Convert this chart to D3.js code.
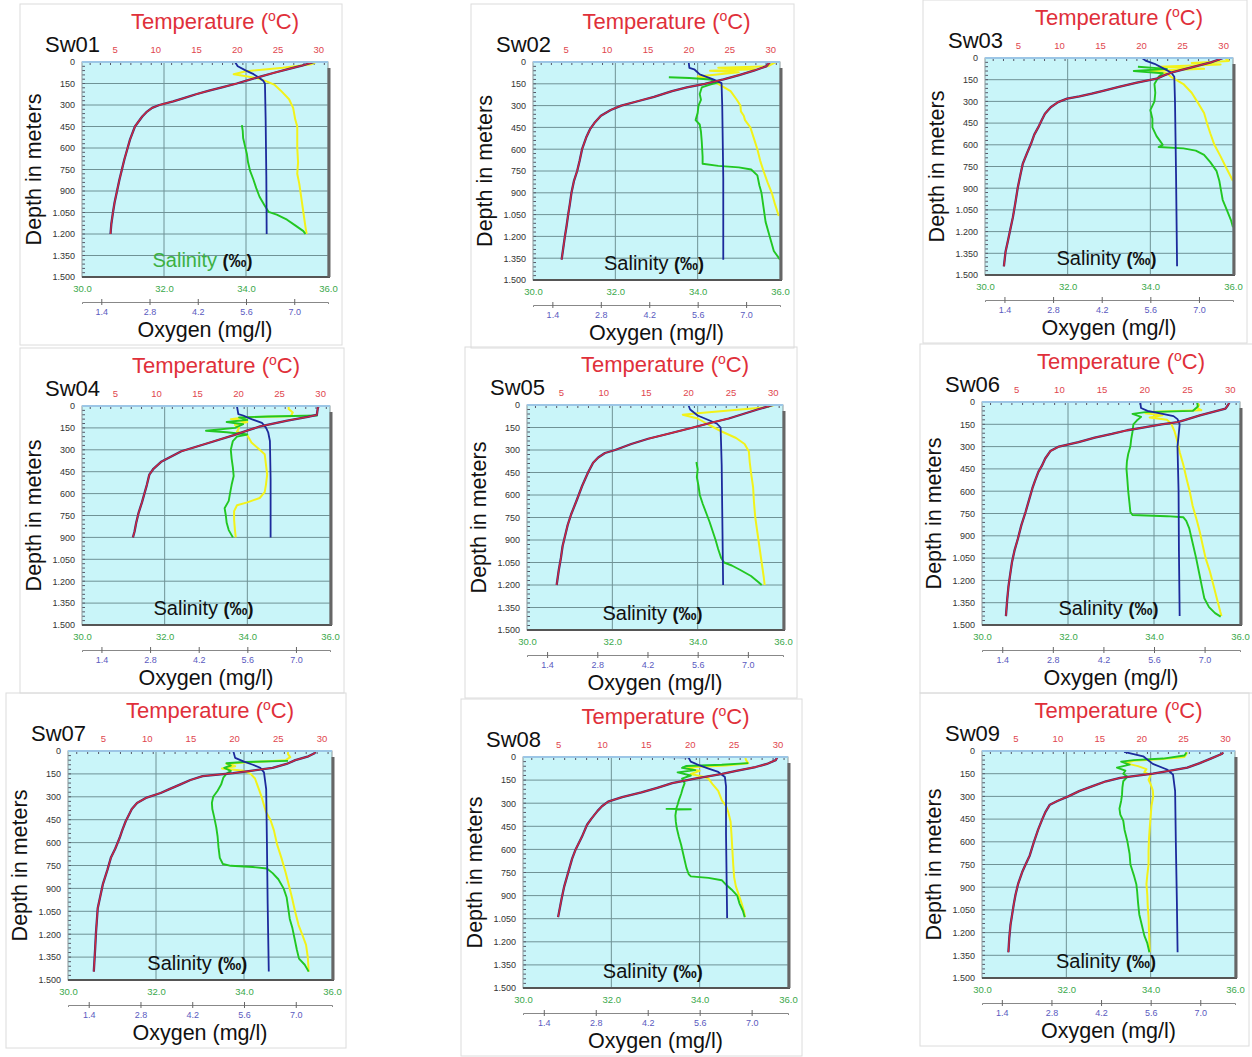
<!DOCTYPE html>
<meta charset="utf-8">
<style>

body {
  margin: 0;
  background: #fff;
}

svg {
  font-family: "Liberation Sans", Arial, sans-serif;
}

.frame {
  fill: none;
  stroke: #dcdcdc;
}

.plot-bg {
  fill: #c9f5f9;
}

.grid line {
  stroke: #6f9296;
  stroke-width: 1;
}

.minor line {
  stroke: #556;
  stroke-width: 1;
}

.line {
  fill: none;
  stroke-linejoin: round;
}

.axis text {
  font-family: "Liberation Sans", Arial, sans-serif;
}

</style>
<svg width="1252" height="1057"></svg>
<script src="https://d3js.org/d3.v7.min.js"></script>
<script>

var stations = ["Sw01", "Sw02", "Sw03", "Sw04", "Sw05", "Sw06", "Sw07", "Sw08", "Sw09"];

var depthTicks = [0, 150, 300, 450, 600, 750, 900, 1050, 1200, 1350, 1500];
var depthLabels = ["0", "150", "300", "450", "600", "750", "900", "1.050", "1.200", "1.350", "1.500"];
var tempTicks = [5, 10, 15, 20, 25, 30];
var salTicks = [30, 32, 34, 36];
var oxyTicks = [1.4, 2.8, 4.2, 5.6, 7.0];

// [depth m, temperature degC]
var temperature = [
  [[0,29.5],[25,28.0],[50,26.3],[75,24.6],[100,23.0],[125,21.5],[150,20.0],[175,18.3],[200,16.6],[225,15.0],[250,13.6],[275,12.2],[300,10.5],[320,9.6],[350,8.9],[380,8.4],[450,7.5],[540,6.9],[600,6.6],[680,6.2],[750,5.9],[820,5.6],[900,5.3],[980,5.0],[1050,4.8],[1130,4.6],[1200,4.5]],
  [[0,30.0],[30,29.5],[60,28.0],[90,26.2],[120,24.3],[150,22.0],[175,19.8],[200,18.0],[240,15.8],[270,13.8],[300,11.8],[330,10.5],[370,9.3],[420,8.5],[460,8.0],[520,7.5],[600,7.0],[680,6.7],[750,6.4],[820,6.0],[900,5.7],[980,5.5],[1050,5.3],[1130,5.1],[1200,4.9],[1280,4.7],[1360,4.5]],
  [[0,30.0],[30,28.5],[60,26.5],[97,23.9],[120,22.8],[143,21.9],[170,19.5],[200,17.3],[225,15.5],[247,14.0],[265,12.5],[281,11.0],[305,9.9],[340,9.0],[385,8.3],[430,7.9],[478,7.5],[530,7.0],[593,6.6],[660,6.1],[731,5.6],[810,5.3],[893,5.0],[1000,4.7],[1100,4.4],[1180,4.1],[1262,3.8],[1340,3.5],[1440,3.3]],
  [[0,29.8],[20,29.7],[60,29.6],[75,28.5],[100,26.0],[140,22.7],[170,21.0],[200,19.5],[255,16.3],[310,13.1],[380,10.7],[430,9.7],[470,9.2],[540,8.9],[600,8.6],[660,8.3],[730,7.9],[800,7.6],[860,7.4],[900,7.2]],
  [[0,30.0],[30,28.2],[60,26.5],[90,24.8],[120,22.6],[150,20.6],[190,17.8],[225,15.3],[260,13.3],[300,11.4],[320,10.2],[350,9.4],[385,8.8],[450,8.2],[540,7.5],[630,6.9],[730,6.2],[800,5.8],[870,5.5],[940,5.2],[1020,5.0],[1100,4.75],[1200,4.5]],
  [[0,30.0],[20,29.8],[45,29.5],[60,28.5],[90,26.5],[120,24.8],[135,23.9],[150,22.0],[170,20.0],[190,18.0],[215,16.2],[240,14.2],[270,12.3],[300,10.0],[330,9.0],[380,8.4],[430,8.0],[470,7.6],[530,7.2],[580,6.9],[660,6.5],[740,6.1],[830,5.6],[920,5.2],[1000,4.8],[1080,4.5],[1160,4.3],[1240,4.1],[1330,3.95],[1440,3.8]],
  [[0,29.3],[15,29.2],[35,28.5],[60,27.0],[85,26.0],[110,24.4],[130,21.9],[145,19.9],[165,16.4],[190,15.0],[220,13.8],[250,12.6],[275,11.6],[305,10.0],[340,8.9],[380,8.3],[460,7.6],[520,7.2],[570,6.9],[640,6.4],[700,5.9],[780,5.5],[870,5.0],[950,4.7],[1030,4.4],[1110,4.3],[1190,4.2],[1300,4.1],[1445,3.95]],
  [[0,30.0],[20,29.8],[45,28.8],[65,27.5],[90,25.3],[110,23.7],[140,20.6],[170,18.0],[200,16.3],[230,14.5],[260,12.3],[290,10.7],[320,10.0],[350,9.5],[400,8.8],[440,8.3],[520,7.7],[600,7.0],[660,6.6],[720,6.3],[780,6.0],[840,5.7],[920,5.4],[980,5.2],[1040,5.0]],
  [[10,29.8],[20,29.6],[50,28.3],[80,27.0],[110,25.5],[130,23.5],[150,21.4],[177,17.5],[200,15.8],[232,14.2],[265,12.6],[300,11.3],[330,10.0],[355,9.1],[400,8.6],[450,8.2],[520,7.7],[600,7.2],[690,6.7],[750,6.2],[800,5.8],[880,5.3],[950,5.0],[1010,4.8],[1080,4.6],[1150,4.4],[1240,4.25],[1330,4.15]]
];

// [depth m, oxygen mg/l] (blue trace)
var oxygen = [
  [[0,5.28],[30,5.36],[60,5.6],[85,5.82],[110,5.98],[131,6.1],[150,6.15],[400,6.17],[800,6.19],[1200,6.2]],
  [[0,5.34],[40,5.36],[50,5.5],[85,5.66],[120,6.05],[145,6.29],[300,6.31],[800,6.34],[1360,6.34]],
  [[0,5.36],[20,5.48],[40,5.72],[70,5.96],[100,6.2],[130,6.29],[300,6.31],[800,6.34],[1440,6.37]],
  [[0,5.3],[55,5.34],[65,5.48],[90,5.72],[115,6.02],[150,6.14],[180,6.2],[240,6.25],[500,6.27],[900,6.27]],
  [[0,5.34],[30,5.39],[70,5.6],[100,5.9],[125,6.14],[150,6.24],[400,6.27],[800,6.29],[1200,6.31]],
  [[0,5.22],[40,5.24],[60,5.42],[80,5.84],[95,6.14],[115,6.25],[150,6.31],[300,6.25],[600,6.28],[1000,6.29],[1440,6.31]],
  [[0,5.31],[45,5.36],[70,5.6],[90,5.84],[110,6.04],[140,6.14],[250,6.2],[600,6.22],[1000,6.24],[1445,6.27]],
  [[0,4.65],[3,5.3],[30,5.36],[55,5.6],[75,5.84],[97,6.1],[130,6.28],[190,6.31],[500,6.31],[1045,6.34]],
  [[5,4.85],[35,5.39],[85,5.66],[122,6.06],[155,6.23],[265,6.29],[600,6.31],[1000,6.34],[1330,6.36]]
];

// [depth m, salinity permil] (green trace)
var salinity = [
  [[440,33.9],[480,33.92],[530,33.93],[580,33.97],[640,34.02],[700,34.05],[760,34.1],[820,34.18],[880,34.25],[940,34.33],[1000,34.45],[1045,34.55],[1065,34.75],[1100,35.0],[1140,35.2],[1180,35.4],[1200,35.45]],
  [[105,33.3],[110,33.8],[120,34.3],[140,34.5],[155,34.3],[175,34.1],[220,34.05],[260,34.08],[300,34.02],[350,34.0],[400,33.95],[430,34.05],[480,34.08],[550,34.1],[650,34.12],[700,34.12],[715,34.5],[725,35.0],[740,35.3],[780,35.45],[850,35.5],[900,35.55],[1000,35.6],[1100,35.65],[1200,35.75],[1300,35.85],[1360,36.0]],
  [[60,33.7],[75,34.4],[90,33.6],[105,34.3],[130,34.2],[180,34.1],[240,34.12],[300,34.1],[360,34.0],[420,34.05],[480,34.05],[540,34.15],[580,34.25],[600,34.3],[615,34.2],[625,34.8],[640,35.1],[670,35.3],[720,35.45],[780,35.6],[850,35.67],[900,35.7],[980,35.75],[1050,35.85],[1120,35.95],[1170,36.0]],
  [[65,35.7],[72,34.5],[78,33.8],[95,34.0],[110,33.5],[125,33.9],[150,33.7],[170,33.0],[180,33.5],[195,34.0],[210,33.75],[240,33.65],[300,33.6],[360,33.62],[420,33.65],[480,33.67],[540,33.62],[600,33.58],[650,33.55],[700,33.45],[750,33.48],[800,33.5],[850,33.55],[900,33.65]],
  [[380,33.97],[430,34.0],[480,33.98],[540,34.02],[600,34.05],[660,34.12],[720,34.2],[780,34.28],[840,34.35],[900,34.42],[960,34.48],[1020,34.55],[1050,34.62],[1070,34.8],[1100,35.0],[1140,35.25],[1180,35.42],[1200,35.5]],
  [[0,35.0],[30,35.02],[60,34.9],[68,33.8],[80,33.5],[100,33.7],[125,33.6],[150,33.52],[200,33.5],[250,33.47],[300,33.45],[350,33.4],[400,33.37],[450,33.36],[520,33.38],[600,33.4],[680,33.43],[740,33.45],[760,33.5],[768,34.3],[775,34.68],[800,34.75],[850,34.82],[950,34.9],[1050,34.98],[1150,35.05],[1250,35.12],[1320,35.17],[1380,35.28],[1420,35.42],[1444,35.55]],
  [[65,35.0],[72,34.0],[80,33.6],[95,33.7],[110,33.55],[130,33.7],[150,33.6],[175,33.53],[220,33.48],[260,33.4],[300,33.3],[340,33.27],[380,33.28],[430,33.32],[500,33.37],[560,33.4],[630,33.42],[700,33.45],[740,33.52],[752,33.7],[760,34.2],[770,34.52],[800,34.65],[840,34.78],[900,34.9],[960,34.97],[1020,35.0],[1100,35.04],[1160,35.1],[1230,35.15],[1300,35.2],[1360,35.25],[1400,35.38],[1445,35.47]],
  [[40,35.1],[50,34.5],[58,33.7],[70,33.6],[85,33.9],[100,33.5],[120,33.8],[140,33.6],[170,33.66],[200,33.62],[240,33.58],[280,33.53],[310,33.5],[335,33.47],[337,33.25],[339,33.8],[341,33.47],[380,33.45],[420,33.46],[460,33.48],[520,33.53],[570,33.58],[620,33.62],[670,33.66],[720,33.7],[760,33.75],[775,33.8],[785,34.2],[800,34.5],[830,34.6],[860,34.72],[900,34.85],[950,34.9],[1000,34.98],[1040,35.02]],
  [[10,34.85],[30,34.8],[50,34.3],[60,33.6],[70,33.3],[90,33.5],[110,33.2],[130,33.4],[150,33.35],[170,33.45],[200,33.35],[240,33.33],[290,33.32],[330,33.3],[380,33.26],[420,33.28],[460,33.35],[520,33.38],[600,33.45],[680,33.5],[750,33.52],[820,33.6],[880,33.66],[930,33.68],[1000,33.7],[1080,33.73],[1150,33.79],[1220,33.85],[1270,33.92],[1330,33.97]]
];

// unlabelled yellow trace, read against the salinity scale
var fourthParam = [
  [[0,35.7],[15,35.6],[40,34.9],[65,34.0],[85,33.7],[100,34.0],[115,34.3],[135,34.5],[160,34.7],[200,34.85],[260,35.05],[320,35.15],[400,35.2],[450,35.25],[500,35.25],[600,35.25],[700,35.27],[780,35.25],[850,35.3],[950,35.35],[1050,35.4],[1150,35.45],[1200,35.48]],
  [[0,35.9],[30,35.7],[40,34.5],[50,35.4],[60,34.3],[70,35.0],[100,34.0],[115,34.3],[150,34.5],[200,34.8],[260,34.95],[300,35.04],[340,35.05],[370,35.12],[400,35.15],[450,35.28],[520,35.36],[600,35.45],[680,35.52],[750,35.6],[830,35.7],[900,35.8],[980,35.88],[1060,35.97]],
  [[0,35.8],[20,35.9],[35,35.0],[45,35.7],[60,34.2],[75,35.3],[90,34.0],[105,34.4],[130,34.5],[180,34.8],[240,35.0],[300,35.13],[380,35.3],[450,35.37],[520,35.45],[600,35.55],[680,35.7],[750,35.82],[850,36.0]],
  [[0,35.0],[20,35.0],[45,35.1],[70,35.05],[78,33.9],[90,33.6],[110,34.0],[130,33.7],[150,33.8],[175,33.75],[200,34.0],[250,34.1],[300,34.3],[330,34.42],[400,34.45],[470,34.48],[540,34.45],[590,34.42],[630,34.3],[660,34.0],[680,33.75],[720,33.68],[780,33.68],[850,33.7],[900,33.72]],
  [[0,35.8],[15,35.6],[35,34.8],[55,34.0],[65,33.65],[90,34.0],[130,34.25],[175,34.55],[220,34.9],[260,35.1],[310,35.2],[380,35.22],[450,35.25],[550,35.3],[650,35.32],[750,35.35],[850,35.4],[950,35.45],[1050,35.5],[1150,35.55],[1200,35.57]],
  [[0,35.0],[20,35.05],[40,35.0],[55,35.1],[65,34.0],[75,33.8],[90,34.2],[105,33.9],[120,34.3],[145,34.4],[200,34.48],[250,34.53],[340,34.6],[420,34.68],[520,34.76],[600,34.83],[700,34.9],[800,35.0],[880,35.07],[960,35.13],[1050,35.2],[1140,35.3],[1230,35.38],[1320,35.46],[1410,35.54],[1440,35.57]],
  [[0,35.0],[20,35.0],[40,35.05],[60,34.95],[75,34.0],[85,33.6],[100,33.8],[115,33.5],[130,34.0],[150,34.15],[180,34.25],[220,34.3],[260,34.35],[300,34.4],[350,34.45],[400,34.5],[450,34.6],[520,34.68],[610,34.75],[700,34.85],[790,34.94],[880,35.02],[960,35.09],[1050,35.16],[1140,35.24],[1200,35.32],[1270,35.41],[1350,35.45],[1445,35.47]],
  [[0,35.03],[20,35.05],[40,35.1],[55,34.6],[65,33.9],[75,33.7],[90,34.0],[110,33.8],[130,34.1],[140,34.2],[180,34.3],[220,34.42],[280,34.5],[320,34.6],[360,34.65],[420,34.7],[500,34.72],[600,34.74],[700,34.76],[780,34.78],[840,34.82],[890,34.88],[950,34.95],[1000,35.0],[1040,35.03]],
  [[5,34.85],[20,34.85],[40,34.8],[55,34.2],[65,33.6],[80,33.4],[100,33.7],[120,33.9],[140,33.85],[160,34.0],[190,33.95],[220,34.0],[260,34.05],[300,34.06],[360,34.02],[430,34.0],[500,33.98],[580,33.96],[660,33.95],[750,33.95],[820,33.92],[880,33.9],[950,33.92],[1020,33.93],[1100,33.95],[1190,33.96],[1260,33.97],[1330,33.98]]
];

// plot boxes of the nine panels (left, top, right, bottom)
var layout = [
  {L: 82, T: 62, R: 328, B: 277},
  {L: 533, T: 62, R: 780, B: 280},
  {L: 985, T: 58, R: 1233, B: 275},
  {L: 82, T: 406, R: 330, B: 625},
  {L: 527, T: 405, R: 783, B: 630},
  {L: 982, T: 402, R: 1240, B: 625},
  {L: 68, T: 751, R: 332, B: 980},
  {L: 523, T: 757, R: 788, B: 988},
  {L: 982, T: 751, R: 1235, B: 978}
];

var svg = d3.select("svg");

stations.forEach(function(name, i) {
  var p = layout[i],
      w = p.R - p.L,
      h = p.B - p.T;

  var y = d3.scaleLinear().domain([0, 1500]).range([p.T, p.B]),
      xT = d3.scaleLinear().domain([1, 31.2]).range([p.L, p.R]),
      xS = d3.scaleLinear().domain([30, 36]).range([p.L, p.R]),
      xO = d3.scaleLinear().domain([0.84, 7.98]).range([p.L, p.R]);

  var g = svg.append("g");

  g.append("rect")
      .attr("class", "frame")
      .attr("x", p.L - 62).attr("y", p.T - 58)
      .attr("width", w + 76).attr("height", h + 126);

  g.append("rect")
      .attr("class", "plot-bg")
      .attr("x", p.L).attr("y", p.T)
      .attr("width", w).attr("height", h);

  var grid = g.append("g").attr("class", "grid");
  grid.selectAll(".h")
      .data(depthTicks.slice(1, -1))
    .enter().append("line")
      .attr("x1", p.L).attr("x2", p.R)
      .attr("y1", function(d) { return y(d); })
      .attr("y2", function(d) { return y(d); });
  grid.selectAll(".v")
      .data([32, 34])
    .enter().append("line")
      .attr("x1", function(d) { return xS(d); })
      .attr("x2", function(d) { return xS(d); })
      .attr("y1", p.T).attr("y2", p.B);

  var minor = g.append("g").attr("class", "minor");
  minor.selectAll(".t")
      .data(d3.range(2, 31, 1.25))
    .enter().append("line")
      .attr("x1", function(d) { return xT(d); })
      .attr("x2", function(d) { return xT(d); })
      .attr("y1", p.T).attr("y2", p.T + 3);
  minor.selectAll(".d")
      .data(d3.range(30, 1500, 30))
    .enter().append("line")
      .attr("x1", p.L).attr("x2", p.L + 3)
      .attr("y1", function(d) { return y(d); })
      .attr("y2", function(d) { return y(d); });

  var lineS = d3.line().x(function(d) { return xS(d[1]); }).y(function(d) { return y(d[0]); }),
      lineO = d3.line().x(function(d) { return xO(d[1]); }).y(function(d) { return y(d[0]); }),
      lineT = d3.line().x(function(d) { return xT(d[1]); }).y(function(d) { return y(d[0]); });

  g.append("path").attr("class", "line")
      .attr("d", lineS(fourthParam[i]))
      .attr("stroke", "#f2f21a").attr("stroke-width", 2);
  g.append("path").attr("class", "line")
      .attr("d", lineS(salinity[i]))
      .attr("stroke", "#22c722").attr("stroke-width", 1.9);
  g.append("path").attr("class", "line")
      .attr("d", lineO(oxygen[i]))
      .attr("stroke", "#1c2a9c").attr("stroke-width", 1.8);
  g.append("path").attr("class", "line")
      .attr("d", lineT(temperature[i]))
      .attr("stroke", "#3a2a78").attr("stroke-width", 2.3);
  g.append("path").attr("class", "line")
      .attr("d", lineT(temperature[i]))
      .attr("stroke", "#d42a3a").attr("stroke-width", 1.3);

  // plot border
  g.append("rect")
      .attr("x", p.L).attr("y", p.T)
      .attr("width", w).attr("height", h)
      .attr("fill", "none").attr("stroke", "#8a9a9c");
  g.append("line")
      .attr("x1", p.L).attr("x2", p.R).attr("y1", p.T).attr("y2", p.T)
      .attr("stroke", "#9cc6e6").attr("stroke-width", 2);
  g.append("line")
      .attr("x1", p.L).attr("x2", p.R + 2).attr("y1", p.B).attr("y2", p.B)
      .attr("stroke", "#555").attr("stroke-width", 2);
  g.append("line")
      .attr("x1", p.R + 1).attr("x2", p.R + 1).attr("y1", p.T + 6).attr("y2", p.B)
      .attr("stroke", "#666").attr("stroke-width", 3);

  // axes
  var aT = g.append("g").attr("class", "axis")
      .attr("transform", "translate(0," + p.T + ")")
      .call(d3.axisTop(xT).tickValues(tempTicks).tickSize(0).tickPadding(9));
  aT.select(".domain").remove();
  aT.selectAll("text").attr("fill", "#e0464e").attr("font-size", 9.5);

  var aD = g.append("g").attr("class", "axis")
      .attr("transform", "translate(" + p.L + ",0)")
      .call(d3.axisLeft(y).tickValues(depthTicks)
        .tickFormat(function(d, k) { return depthLabels[k]; })
        .tickSize(0).tickPadding(7));
  aD.select(".domain").remove();
  aD.selectAll("text").attr("fill", "#333").attr("font-size", 9);

  var aS = g.append("g").attr("class", "axis")
      .attr("transform", "translate(0," + p.B + ")")
      .call(d3.axisBottom(xS).tickValues(salTicks).tickFormat(d3.format(".1f"))
        .tickSize(0).tickPadding(8));
  aS.select(".domain").remove();
  aS.selectAll("text").attr("fill", "#3aa84a").attr("font-size", 9.5);

  var aO = g.append("g").attr("class", "axis")
      .attr("transform", "translate(0," + (p.B + 25) + ")")
      .call(d3.axisBottom(xO).tickValues(oxyTicks).tickFormat(d3.format(".1f"))
        .tickSizeInner(3).tickSizeOuter(2).tickPadding(4));
  aO.select(".domain").attr("stroke", "#888");
  aO.selectAll(".tick line").attr("stroke", "#666").attr("y1", -3);
  aO.selectAll("text").attr("fill", "#5a5ac0").attr("font-size", 9);

  // titles
  g.append("text")
      .attr("x", p.L - 37).attr("y", p.T - 10)
      .attr("font-size", 22).attr("fill", "#111")
      .text(name);

  var tt = g.append("text")
      .attr("x", (p.L + p.R) / 2 + 10).attr("y", p.T - 33)
      .attr("text-anchor", "middle")
      .attr("font-size", 22).attr("fill", "#e0303a");
  tt.append("tspan").text("Temperature (");
  tt.append("tspan").attr("font-size", 14).attr("dy", -8).text("o");
  tt.append("tspan").attr("dy", 8).text("C)");

  g.append("text")
      .attr("transform", "translate(" + (p.L - 41) + "," + ((p.T + p.B) / 2) + ") rotate(-90)")
      .attr("text-anchor", "middle")
      .attr("font-size", 21.5).attr("fill", "#111")
      .text("Depth in meters");

  var st = g.append("text")
      .attr("x", p.L + 0.49 * w).attr("y", p.B - 10)
      .attr("text-anchor", "middle")
      .attr("font-size", 20).attr("fill", i === 0 ? "#3cb043" : "#111");
  st.append("tspan").text("Salinity ");
  st.append("tspan").attr("fill", "#111").attr("font-weight", "bold").attr("font-size", 18).text("(‰)");

  g.append("text")
      .attr("x", (p.L + p.R) / 2).attr("y", p.B + 60)
      .attr("text-anchor", "middle")
      .attr("font-size", 21.5).attr("fill", "#111")
      .text("Oxygen (mg/l)");
});

</script>
